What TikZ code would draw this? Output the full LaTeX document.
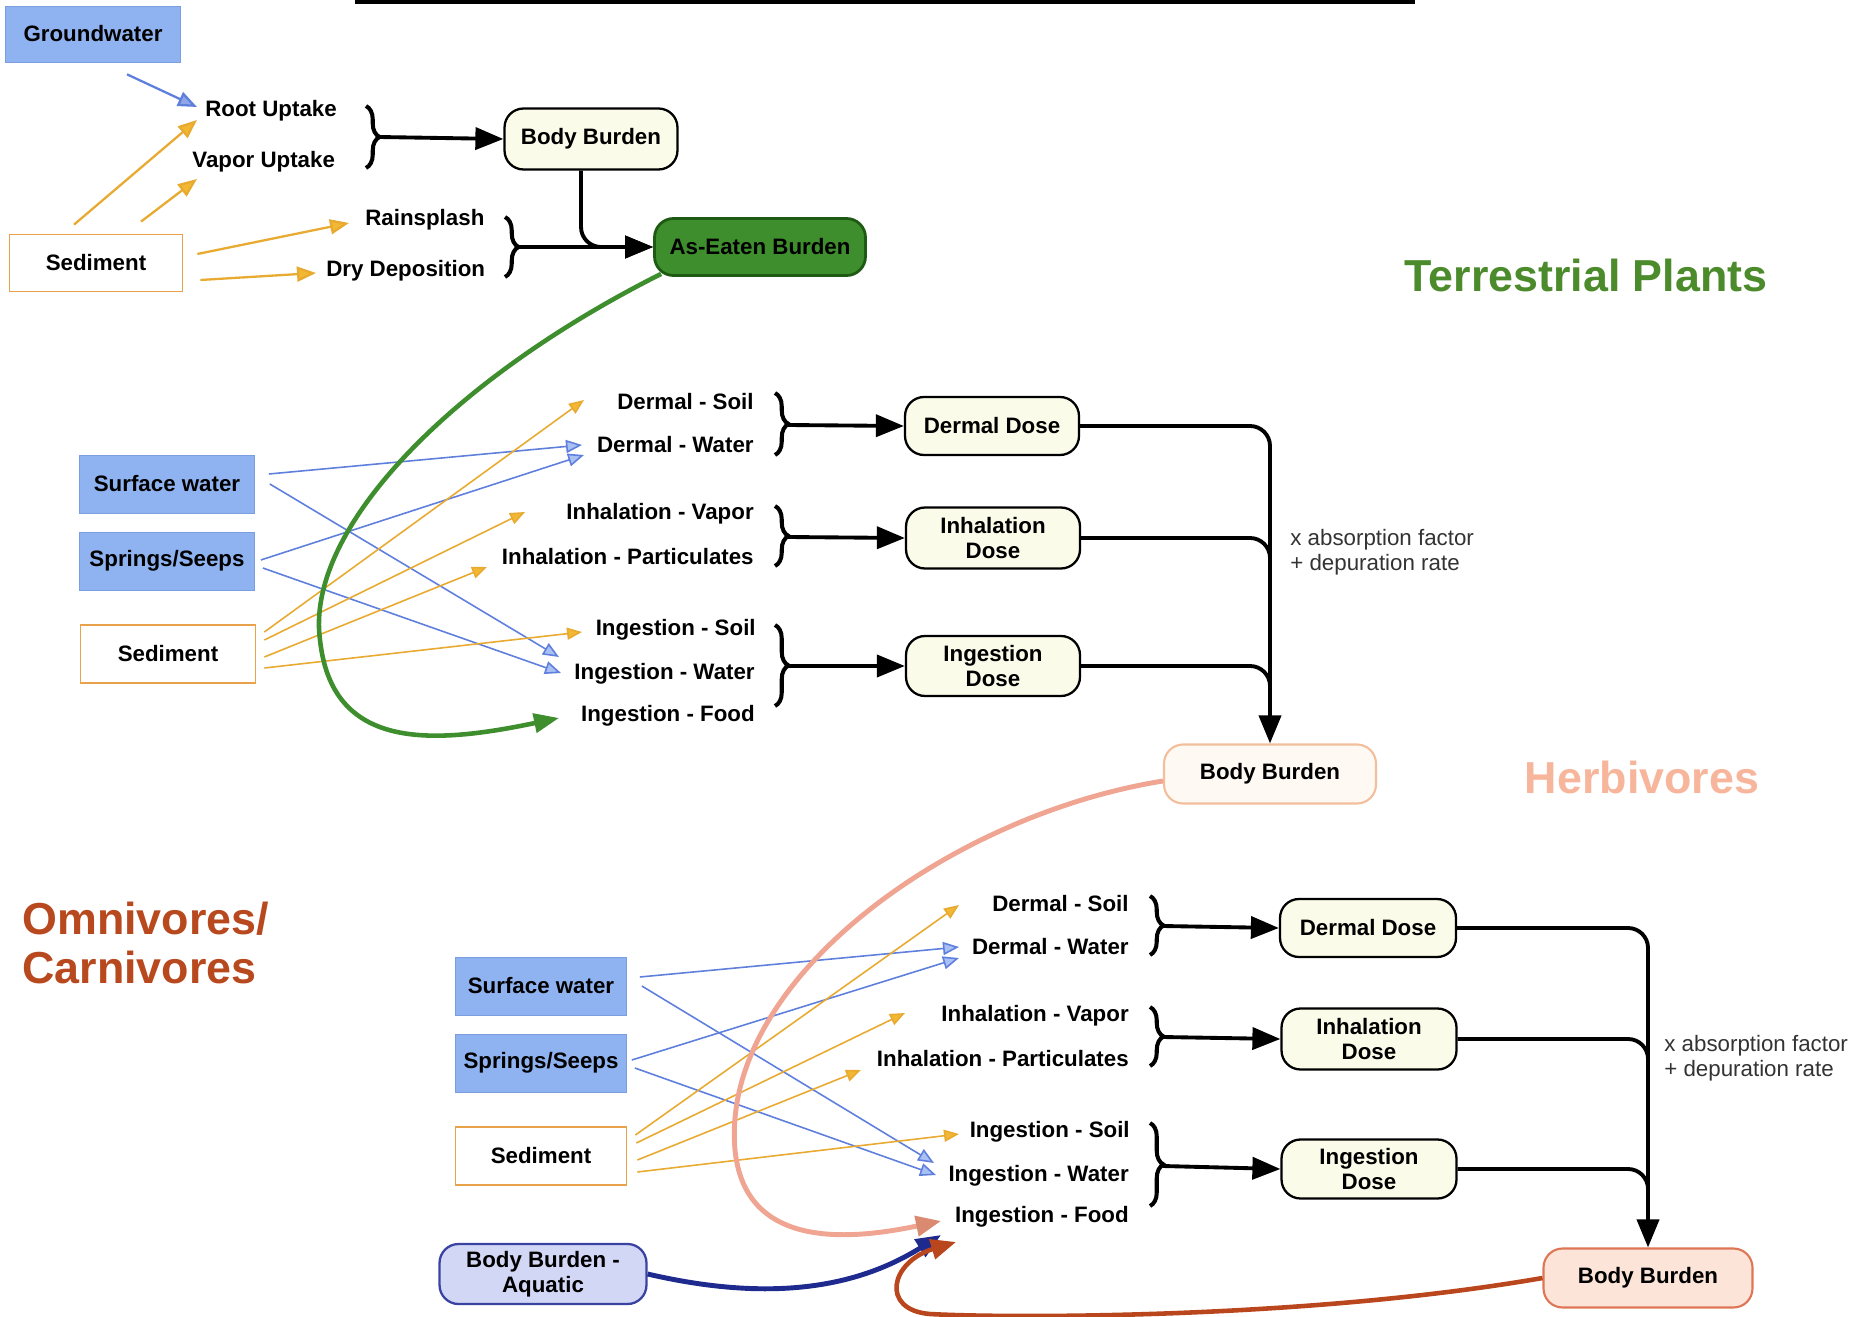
\documentclass[tikz,border=0pt]{standalone}
\usepackage{fontspec}
\setmainfont{Liberation Sans}
\usetikzlibrary{arrows.meta,decorations.pathreplacing,calc}
\definecolor{wblue}{HTML}{8FB3F1}
\definecolor{wblueD}{HTML}{7A9EE0}
\definecolor{sedor}{HTML}{E8A24A}
\definecolor{cream}{HTML}{FAFBE8}
\definecolor{orline}{HTML}{E8AA30}
\definecolor{orhead}{HTML}{F2B833}
\definecolor{bline}{HTML}{5F7FDD}
\definecolor{bhead}{HTML}{A9C0F5}
\definecolor{leaf}{HTML}{3E8E2E}
\definecolor{leafD}{HTML}{1F5A14}
\definecolor{gtitle}{HTML}{4B8B2B}
\definecolor{htitle}{HTML}{F7B69C}
\definecolor{otitle}{HTML}{B8481E}
\definecolor{hbbfill}{HTML}{FFF9F4}
\definecolor{hbbdraw}{HTML}{F3BE9C}
\definecolor{obbfill}{HTML}{FCE5D8}
\definecolor{obbdraw}{HTML}{DE7656}
\definecolor{aqfill}{HTML}{D3D7F6}
\definecolor{aqdraw}{HTML}{3A44A0}
\definecolor{salmon}{HTML}{F0A592}
\definecolor{salmonD}{HTML}{D98A70}
\definecolor{navy}{HTML}{1E2A8E}
\definecolor{rust}{HTML}{B9461C}
\definecolor{greytext}{HTML}{333333}
\newcommand\labf{\fontsize{12.7}{14.2}\selectfont\bfseries}
\newcommand\notef{\fontsize{12.7}{14.2}\selectfont}
\newcommand\titlef{\fontsize{25.5}{27.4}\selectfont\bfseries}
\begin{document}
\begin{tikzpicture}[x=0.02cm,y=-0.02cm,
 lab/.style={font=\labf, inner sep=0pt, anchor=east},
 labw/.style={font=\labf, inner sep=0pt, anchor=west},
 srcbox/.style={minimum width=3.5cm, minimum height=1.16cm, inner sep=0pt, font=\labf},
 wbox/.style={srcbox, fill=wblue, draw=wblueD, line width=0.4pt},
 sbox/.style={srcbox, fill=white, draw=sedor, line width=1pt},
 rbox/.style={rounded corners=0.38cm, line width=1.3pt, minimum height=1.16cm, inner sep=0pt, align=center, font=\labf},
 dosebox/.style={rbox, draw=black, fill=cream, minimum width=3.48cm},
 bigarr/.style={line width=2.2pt, -{Triangle[length=0.56cm,width=0.44cm]}},
 blk/.style={line width=2.2pt, rounded corners=0.4cm},
 brc/.style={decorate, decoration={brace, amplitude=0.27cm}, line width=2.3pt},
 oarr/.style={draw=orline, line width=0.9pt, -{Triangle[length=0.3cm,width=0.24cm,fill=orhead]}},
 oarrT/.style={draw=orline, line width=1.3pt, -{Triangle[length=0.38cm,width=0.3cm,fill=orhead]}},
 barr/.style={draw=bline, line width=0.9pt, -{Triangle[length=0.32cm,width=0.26cm,fill=bhead]}},
 barrT/.style={draw=bline, line width=1.3pt, -{Triangle[length=0.38cm,width=0.3cm,fill=bline!70]}},
 notes/.style={font=\notef, text=greytext, align=left, anchor=west, inner sep=0pt},
]
\useasboundingbox (0,0) rectangle (1868,1317);
\fill[white] (0,0) rectangle (1868,1317);
\fill[black] (355,0) rectangle (1415,4);

% ================= Terrestrial plants =================
\node[wbox, minimum height=1.12cm] (gw) at (93,34) {Groundwater};
\node[sbox, minimum width=3.46cm, minimum height=1.14cm] (tsed) at (96,263) {Sediment};
\node[labw] (ru) at (205,111) {Root Uptake};
\node[labw] (vu) at (192,162) {Vapor Uptake};
\node[labw] (rs) at (365,220) {Rainsplash};
\node[labw] (dry) at (326,271) {Dry Deposition};
\node[dosebox, minimum width=3.46cm, minimum height=1.22cm] (tbb) at (591,139) {Body Burden};
\node[rbox, draw=leafD, fill=leaf, line width=1.6pt, minimum width=4.22cm, minimum height=1.14cm] (ae) at (760,247) {As-Eaten Burden};

\coordinate (gwT) at (197,107);
\coordinate (ruT) at (197,120);
\coordinate (vuT) at (197,179);
\coordinate (rsT) at (349,223);
\coordinate (dryT) at (316,273);
\draw[barrT] ($(gw.south)+(34,12)$) -- (gwT);
\draw[oarrT] ($(tsed.north)+(-22,-9)$) -- (ruT);
\draw[oarrT] ($(tsed.north)+(45,-12)$) -- (vuT);
\draw[oarrT] ($(tsed.east)+(14,-9)$) -- (rsT);
\draw[oarrT] ($(tsed.east)+(17,17)$) -- (dryT);

\draw[brc] (366,106) -- (366,168);
\coordinate (tb1) at (379,137);
\draw[bigarr] (tb1) -- (tbb.west);
\draw[brc] (505,217) -- (505,277);
\coordinate (tb2) at (518,247);
\draw[bigarr] (tb2) -- (ae.west);
\draw[blk, bigarr] ($(tbb.south)+(-10,0)$) |- (ae.west);

\node[font=\titlef, text=gtitle] (tp) at (1586,275) {Terrestrial Plants};

% ================= Herbivores =================
\node[wbox] (msw) at (167,484) {Surface water};
\node[wbox] (mss) at (167,561) {Springs/Seeps};
\node[sbox] (msed) at (168,654) {Sediment};

\node[lab] (mds) at (754,402) {Dermal - Soil};
\node[lab] (mdw) at (754,445) {Dermal - Water};
\node[lab] (miv) at (754,514) {Inhalation - Vapor};
\node[lab] (mip) at (754,557) {Inhalation - Particulates};
\node[lab] (mis) at (756,630) {Ingestion - Soil};
\node[lab] (miw) at (755,674) {Ingestion - Water};
\node[lab] (mif) at (755,716) {Ingestion - Food};

\coordinate (mdsT) at (584,400);
\coordinate (mdwT1) at (582,445);
\coordinate (mdwT2) at (584,455);
\coordinate (mivT) at (525,512);
\coordinate (mipT) at (487,567);
\coordinate (misT) at (582,632);
\coordinate (miwT1) at (559,657);
\coordinate (miwT2) at (561,673);
\coordinate (mifT) at (559,718);

\draw[barr] ($(msw.east)+(14,-10)$) -- (mdwT1);
\draw[barr] ($(msw.east)+(15,0)$) -- (miwT1);
\draw[barr] ($(mss.east)+(6,-1)$) -- (mdwT2);
\draw[barr] ($(mss.east)+(8,7)$) -- (miwT2);
\draw[oarr] ($(msed.east)+(8,-22)$) -- (mdsT);
\draw[oarr] ($(msed.east)+(8,-14)$) -- (mivT);
\draw[oarr] ($(msed.east)+(8,3)$) -- (mipT);
\draw[oarr] ($(msed.east)+(8,14)$) -- (misT);

\draw[leaf, line width=2.6pt, -{Triangle[length=0.5cm,width=0.38cm]}]
  ($(ae.south west)+(8,-3)$) .. controls (450,380) and (305,530) .. (320,640)
  .. controls (332,750) and (430,745) .. (mifT);

\node[dosebox] (mdd) at (992,426) {Dermal Dose};
\node[dosebox, minimum height=1.22cm] (mid) at (993,538) {Inhalation\\Dose};
\node[dosebox, minimum height=1.2cm] (ming) at (993,666) {Ingestion\\Dose};
\node[rbox, draw=hbbdraw, fill=hbbfill, line width=1.2pt, minimum width=4.24cm, minimum height=1.18cm] (hbb) at (1270,774) {Body Burden};

\draw[brc] (775,393) -- (775,455);
\coordinate (mb1) at (788,425);
\draw[brc] (775,506) -- (775,566);
\coordinate (mb2) at (788,537);
\draw[brc] (775,625) -- (775,706);
\coordinate (mb3) at (788,666);
\draw[bigarr] (mb1) -- (mdd.west);
\draw[bigarr] (mb2) -- (mid.west);
\draw[bigarr] (mb3) -- (ming.west);

\draw[blk, shorten >=0.5cm] (mid.east) -| (hbb.north);
\draw[blk, shorten >=0.5cm] (ming.east) -| (hbb.north);
\draw[blk, bigarr] (mdd.east) -| (hbb.north);

\node[notes] (mabs) at (1290,552) {x absorption factor\\+ depuration rate};
\node[font=\titlef, text=htitle] (hv) at (1642,777) {Herbivores};

% ================= Omnivores / Carnivores =================
\node[font=\titlef, text=otitle, align=left, anchor=west, inner sep=0pt] (om) at (22,943) {Omnivores/\\Carnivores};

\node[wbox, minimum width=3.42cm] (osw) at (541,986) {Surface water};
\node[wbox, minimum width=3.42cm] (oss) at (541,1063) {Springs/Seeps};
\node[sbox, minimum width=3.42cm] (osed) at (541,1156) {Sediment};
\node[rbox, draw=aqdraw, fill=aqfill, line width=1.3pt, minimum width=4.14cm, minimum height=1.2cm] (abb) at (543,1274) {Body Burden -\\Aquatic};

\node[lab] (ods) at (1129,904) {Dermal - Soil};
\node[lab] (odw) at (1129,947) {Dermal - Water};
\node[lab] (oiv) at (1129,1016) {Inhalation - Vapor};
\node[lab] (oip) at (1129,1059) {Inhalation - Particulates};
\node[lab] (ois) at (1130,1132) {Ingestion - Soil};
\node[lab] (oiw) at (1129,1176) {Ingestion - Water};
\node[lab] (oif) at (1129,1217) {Ingestion - Food};

\coordinate (odsT) at (959,905);
\coordinate (odwT1) at (959,947);
\coordinate (odwT2) at (959,958);
\coordinate (oivT) at (905,1013);
\coordinate (oipT) at (861,1070);
\coordinate (oisT) at (959,1134);
\coordinate (oiwT1) at (934,1163);
\coordinate (oiwT2) at (936,1175);
\coordinate (oifT1) at (941,1221);
\coordinate (oifT2) at (941,1235);
\coordinate (oifT3) at (956,1242);

\draw[barr] ($(osw.east)+(13,-9)$) -- (odwT1);
\draw[barr] ($(osw.east)+(15,0)$) -- (oiwT1);
\draw[barr] ($(oss.east)+(5,-3)$) -- (odwT2);
\draw[barr] ($(oss.east)+(8,5)$) -- (oiwT2);
\draw[oarr] ($(osed.east)+(8,-21)$) -- (odsT);
\draw[oarr] ($(osed.east)+(9,-13)$) -- (oivT);
\draw[oarr] ($(osed.east)+(10,4)$) -- (oipT);
\draw[oarr] ($(osed.east)+(10,16)$) -- (oisT);

\node[dosebox, minimum width=3.52cm] (odd) at (1368,928) {Dermal Dose};
\node[dosebox, minimum width=3.5cm, minimum height=1.22cm] (oid) at (1369,1039) {Inhalation\\Dose};
\node[dosebox, minimum width=3.5cm, minimum height=1.18cm] (oing) at (1369,1169) {Ingestion\\Dose};
\node[rbox, draw=obbdraw, fill=obbfill, line width=1.2pt, minimum width=4.18cm, minimum height=1.18cm] (obb) at (1648,1278) {Body Burden};

\draw[brc] (1150,896) -- (1150,955);
\coordinate (ob1) at (1163,926);
\draw[brc] (1150,1007) -- (1150,1066);
\coordinate (ob2) at (1163,1037);
\draw[brc] (1150,1123) -- (1150,1206);
\coordinate (ob3) at (1163,1166);
\draw[bigarr] (ob1) -- (odd.west);
\draw[bigarr] (ob2) -- (oid.west);
\draw[bigarr] (ob3) -- (oing.west);

\draw[blk, shorten >=0.5cm] (oid.east) -| (obb.north);
\draw[blk, shorten >=0.5cm] (oing.east) -| (obb.north);
\draw[blk, bigarr] (odd.east) -| (obb.north);

\node[notes] (oabs) at (1664,1058) {x absorption factor\\+ depuration rate};

% curves into Ingestion - Food
\draw[salmon, line width=2.8pt, -{Triangle[length=0.5cm,width=0.4cm,color=salmonD]}]
  ($(hbb.west)+(0,7)$) .. controls (950,815) and (720,980) .. (735,1150)
  .. controls (745,1250) and (850,1240) .. (oifT1);
\draw[navy, line width=2.8pt, -{Triangle[length=0.5cm,width=0.4cm]}]
  (abb.east) .. controls (760,1300) and (850,1292) .. (oifT2);
\draw[rust, line width=2.6pt, -{Triangle[length=0.5cm,width=0.4cm]}]
  (obb.west) .. controls (1300,1320) and (1000,1318) .. (930,1314)
  .. controls (880,1310) and (890,1262) .. (oifT3);
\end{tikzpicture}
\end{document}
